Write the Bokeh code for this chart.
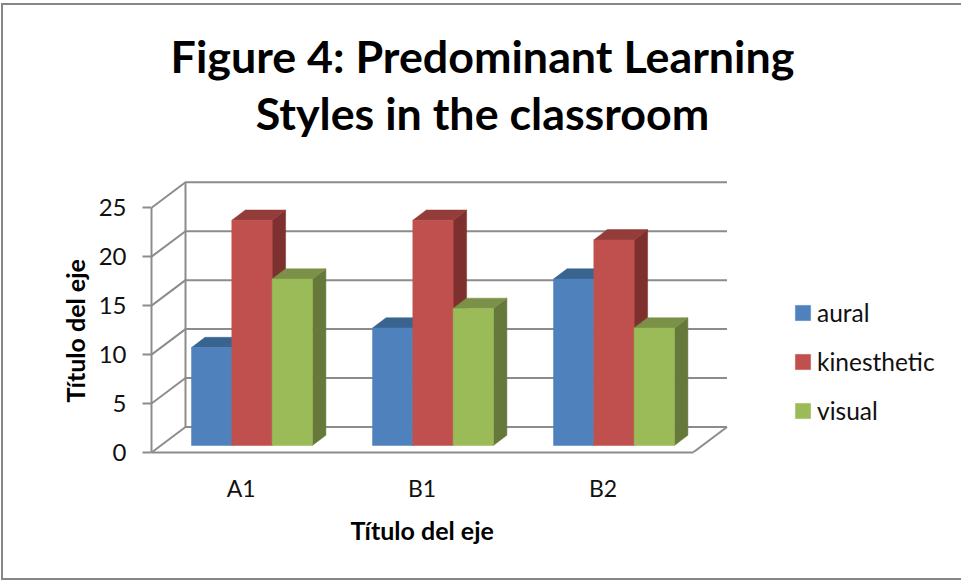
import math
from bokeh.embed import file_html
from bokeh.models import FixedTicker, Label, Legend, LegendItem, Range1d, Title
from bokeh.plotting import figure
from bokeh.resources import INLINE

categories = ["A1", "B1", "B2"]
series_names = ["aural", "kinesthetic", "visual"]
aural = [10, 12, 17]
kinesthetic = [23, 23, 21]
visual = [17, 14, 12]
value_ticks = [0, 5, 10, 15, 20, 25]

front_colors = ["#4F81BD", "#C0504D", "#9BBB59"]
top_colors = ["#3A6490", "#943C3A", "#7A9147"]
side_colors = ["#2F5278", "#7D302E", "#66793A"]
GRID = "#8C8C8C"
BORDER = "#868686"
FONT = "Lato"

# the canvas starts at page pixel (3, 5), inside the chart's border
OX, OY = 3, 5
W, H = 958, 573
LEFT, BOTTOM = 151, 452     # frame edges in page pixels
PX_X, PX_Y = 181.0, 9.79

def dx(px):
    return px / PX_X

def dy(px):
    return px / PX_Y

p = figure(
    width=W, height=H, frame_width=W + OX - LEFT, frame_height=BOTTOM - OY,
    min_border_left=LEFT - OX, min_border_right=0, min_border_top=0, min_border_bottom=H + OY - BOTTOM,
    x_range=Range1d(0, dx(W + OX - LEFT)), y_range=Range1d(0, dy(BOTTOM - OY)),
    output_backend="svg", toolbar_location=None, tools="", outline_line_color=None,
    background_fill_color="white", border_fill_color="white",
)
p.styles = {
    "position": "absolute", "left": "1px", "top": "3px", "box-sizing": "content-box",
    "border-left": f"2px solid {BORDER}", "border-top": f"2px solid {BORDER}",
    "border-bottom": f"2px solid {BORDER}",
}
p.grid.visible = False

# walls and floor of the 3D box
wall_x, wall_y = dx(34), dy(25.5)
n = len(categories)
box_w = dx(541.5)
xs = [[0, wall_x, box_w + wall_x] for v in value_ticks] + [[box_w, box_w + wall_x], [wall_x, wall_x]]
ys = [[v, v + wall_y, v + wall_y] for v in value_ticks] + [[0, wall_y], [wall_y, value_ticks[-1] + wall_y]]
p.multi_line(xs, ys, line_color=GRID, line_width=2)

# bars
bar_w = dx(40.3)
first = dx(40)
off_x, off_y = dx(13.5), dy(10.3)
base = dy(7.0)
renderers = []
for s, vals in enumerate([aural, kinesthetic, visual]):
    left = [c + first + s * bar_w for c in range(n)]
    right = [l + bar_w for l in left]
    tops = [v + base for v in vals]
    p.patches(
        [[r, r + off_x, r + off_x, r] for r in right],
        [[base, base + off_y, t + off_y, t] for t in tops],
        fill_color=side_colors[s], line_color=side_colors[s], line_width=0.5,
    )
    p.patches(
        [[l, l + off_x, r + off_x, r] for l, r in zip(left, right)],
        [[t, t + off_y, t + off_y, t] for t in tops],
        fill_color=top_colors[s], line_color=top_colors[s], line_width=0.5,
    )
    rend = p.quad(left=left, right=right, bottom=base, top=tops,
                  fill_color=front_colors[s], line_color=front_colors[s], line_width=0.5)
    renderers.append(rend)

# axes
xa, ya = p.xaxis[0], p.yaxis[0]
xa.ticker = FixedTicker(ticks=[i + 0.495 for i in range(n)], minor_ticks=[])
xa.major_label_overrides = {i + 0.495: c for i, c in enumerate(categories)}
xa.bounds = (0, box_w)
xa.major_tick_line_color = None
xa.minor_tick_line_color = None
xa.axis_line_color = GRID
xa.axis_line_width = 2
xa.major_label_standoff = 15
xa.major_label_text_font = FONT
xa.major_label_text_font_size = "23px"
xa.major_label_text_color = "#111111"

ya.ticker = FixedTicker(ticks=value_ticks, minor_ticks=[])
ya.bounds = (0, value_ticks[-1])
ya.major_tick_out = 9
ya.major_tick_in = 0
ya.major_tick_line_color = GRID
ya.major_tick_line_width = 2
ya.minor_tick_line_color = None
ya.axis_line_color = GRID
ya.axis_line_width = 2
ya.major_label_standoff = 16
ya.major_label_text_font = FONT
ya.major_label_text_font_size = "24px"
ya.major_label_text_color = "#111111"
ya.major_label_orientation = "horizontal"

# legend
legend = Legend(
    items=[LegendItem(label=name, renderers=[r]) for name, r in zip(series_names, renderers)],
    location=(642, 27), orientation="vertical", background_fill_alpha=0, border_line_color=None,
    glyph_width=19, glyph_height=19, label_standoff=5, spacing=20, margin=0, padding=0,
    label_text_font=FONT, label_text_font_size="24.5px", label_text_color="#111111",
)
p.add_layout(legend)

# chart title lines, inside the frame
def text_label(cx, cy, text, size):
    p.add_layout(Label(x=cx - LEFT, y=BOTTOM - cy, x_units="screen", y_units="screen",
                       text=text, text_align="center", text_baseline="middle",
                       text_font=FONT, text_font_style="bold", text_font_size=size, text_color="#000000"))

text_label(482, 55, "Figure 4: Predominant Learning", "44.8px")
text_label(482, 112, "Styles in the classroom", "44.8px")

# axis titles, in the side panels
p.add_layout(Title(text="Título del eje", align="left", offset=199, standoff=16,
                   text_font=FONT, text_font_style="bold", text_font_size="25px", text_color="#000000"), "below")
p.add_layout(Title(text="Título del eje", align="left", offset=50, standoff=12,
                   text_font=FONT, text_font_style="bold", text_font_size="25px", text_color="#000000"), "left")

open("out.html", "w").write(file_html(p, INLINE))
